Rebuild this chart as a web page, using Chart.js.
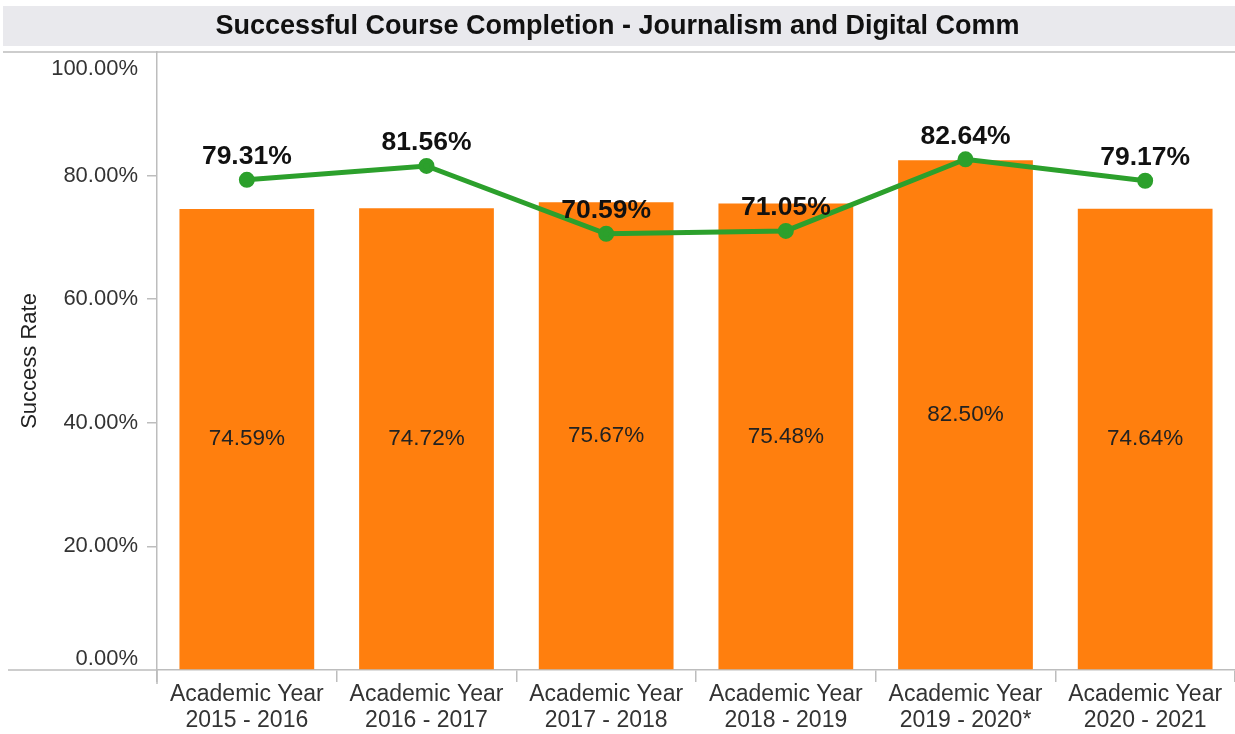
<!DOCTYPE html>
<html>
<head>
<meta charset="utf-8">
<script src="https://cdn.jsdelivr.net/npm/chart.js@4/dist/chart.umd.min.js"></script>
<style>
  html, body { margin: 0; padding: 0; background: #fff; }
  #wrap { width: 1235px; height: 734px; position: relative; }
</style>
</head>
<body>
<div id="wrap"><canvas id="chart"></canvas></div>
<script>
const categories = [
  ['Academic Year', '2015 - 2016'],
  ['Academic Year', '2016 - 2017'],
  ['Academic Year', '2017 - 2018'],
  ['Academic Year', '2018 - 2019'],
  ['Academic Year', '2019 - 2020*'],
  ['Academic Year', '2020 - 2021']
];
const collegeRates = [74.59, 74.72, 75.67, 75.48, 82.50, 74.64];
const programRates = [79.31, 81.56, 70.59, 71.05, 82.64, 79.17];
const yTicks = [0, 20, 40, 60, 80, 100];

const FONT = "'Liberation Sans', Arial, Helvetica, sans-serif";
const AXIS_GRAY = '#bdbdbd';
const fmt = v => v.toFixed(2) + '%';

// gray title band, extra axis lines, edge tick labels and value labels
const decor = {
  id: 'decor',
  beforeDraw(chart) {
    const c = chart.ctx;
    c.save();
    c.fillStyle = '#e9e9ed';
    c.fillRect(3, 6, chart.width - 3, 40);
    c.restore();
  },
  afterDraw(chart) {
    const c = chart.ctx;
    const a = chart.chartArea;
    const y = chart.scales.y;
    c.save();
    c.strokeStyle = AXIS_GRAY;
    c.lineWidth = 1.5;
    c.beginPath();
    c.moveTo(3, a.top); c.lineTo(chart.width, a.top);
    c.moveTo(8, a.bottom); c.lineTo(a.left, a.bottom);
    c.moveTo(a.left, a.bottom); c.lineTo(a.left, a.bottom + 14);
    c.stroke();

    // first and last y labels sit inside the plot, like the original
    c.font = '22px ' + FONT;
    c.fillStyle = '#333';
    c.textAlign = 'right';
    c.textBaseline = 'middle';
    c.fillText(fmt(yTicks[0]), a.left - 19, y.getPixelForValue(yTicks[0]) - 11);
    c.fillText(fmt(yTicks[yTicks.length - 1]), a.left - 19, y.getPixelForValue(yTicks[yTicks.length - 1]) + 17);

    c.textAlign = 'center';
    // bar labels, middle of the bar
    c.font = '22.5px ' + FONT;
    c.fillStyle = '#222';
    chart.getDatasetMeta(1).data.forEach((bar, i) => {
      c.fillText(fmt(collegeRates[i]), bar.x, (bar.y + bar.base) / 2);
    });
    // line labels, above the point
    c.font = 'bold 26.5px ' + FONT;
    c.fillStyle = '#111';
    chart.getDatasetMeta(0).data.forEach((pt, i) => {
      c.fillText(fmt(programRates[i]), pt.x, pt.y - 23);
    });
    c.restore();
  }
};

new Chart(document.getElementById('chart'), {
  data: {
    labels: categories,
    datasets: [
      {
        type: 'line',
        label: 'Journalism and Digital Comm',
        data: programRates,
        borderColor: '#2ca02c',
        backgroundColor: '#2ca02c',
        borderWidth: 5,
        pointRadius: 5.5,
        pointHoverRadius: 5.5,
        tension: 0,
        order: 0
      },
      {
        type: 'bar',
        label: 'College',
        data: collegeRates,
        backgroundColor: '#ff7f0e',
        categoryPercentage: 0.75,
        barPercentage: 1,
        order: 1
      }
    ]
  },
  options: {
    responsive: true,
    maintainAspectRatio: false,
    animation: false,
    layout: { autoPadding: false, padding: 0 },
    plugins: {
      legend: { display: false },
      tooltip: { enabled: false },
      title: {
        display: true,
        text: 'Successful Course Completion - Journalism and Digital Comm',
        color: '#111',
        font: { family: FONT, size: 27, weight: 'bold', lineHeight: 1.2 },
        padding: { top: 10, bottom: 9.6 }
      }
    },
    scales: {
      x: {
        offset: true,
        afterFit(scale) {
          scale.height = 64;
          scale.paddingLeft = 0;
          scale.paddingRight = 0;
        },
        grid: {
          offset: true,
          drawOnChartArea: false,
          drawTicks: true,
          tickLength: 12,
          color: AXIS_GRAY,
          lineWidth: 1.5
        },
        border: { display: true, color: AXIS_GRAY, width: 1.5 },
        ticks: {
          color: '#333',
          padding: 0,
          maxRotation: 0,
          autoSkip: false,
          font: { family: FONT, size: 23, lineHeight: 1.13 }
        }
      },
      y: {
        min: 0,
        max: 100,
        afterFit(scale) { scale.width = 157; },
        afterBuildTicks(scale) { scale.ticks = yTicks.map(v => ({ value: v })); },
        grid: {
          drawOnChartArea: false,
          drawTicks: true,
          tickLength: 10,
          color: ctx => (ctx.tick && (ctx.tick.value === 0 || ctx.tick.value === 100)) ? 'rgba(0,0,0,0)' : AXIS_GRAY,
          lineWidth: 1.5
        },
        border: { display: true, color: AXIS_GRAY, width: 1.5 },
        title: {
          display: true,
          text: 'Success Rate',
          color: '#222',
          font: { family: FONT, size: 22 },
          padding: { top: 17, bottom: 0 }
        },
        ticks: {
          color: '#333',
          padding: 9,
          font: { family: FONT, size: 22 },
          callback: v => (v === 0 || v === 100) ? '' : fmt(v)
        }
      }
    }
  },
  plugins: [decor]
});
</script>
</body>
</html>
